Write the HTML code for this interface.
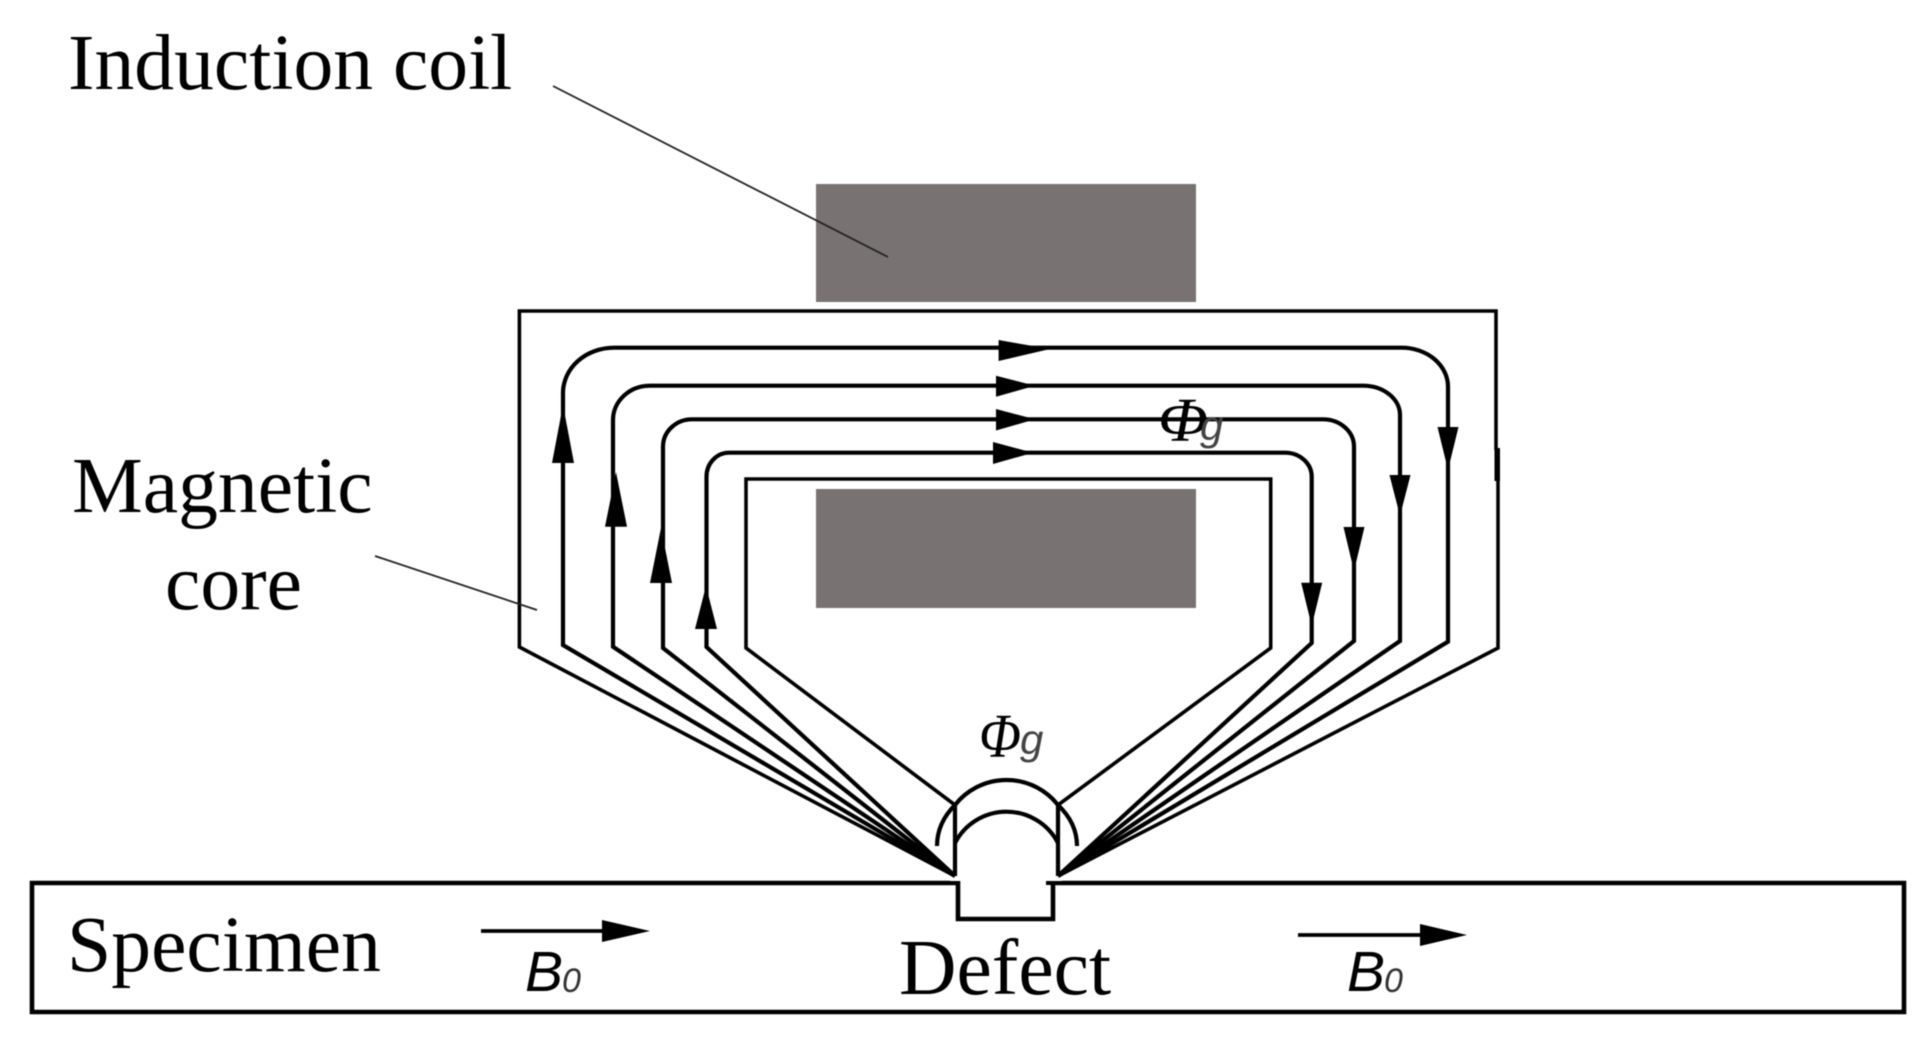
<!DOCTYPE html>
<html>
<head>
<meta charset="utf-8">
<style>
html,body{margin:0;padding:0;background:#fff;width:1920px;height:1063px;overflow:hidden}
svg{display:block;filter:blur(.6px)}
text{fill:#000}
.s{font-family:"Liberation Serif",serif;font-size:79.6px}
.p{font-family:"Liberation Serif",serif;font-style:italic;font-size:62px}
.g{font-family:"Liberation Sans",sans-serif;font-style:italic;font-size:42px;fill:#444}
.b{font-family:"Liberation Sans",sans-serif;font-style:italic;font-size:57px}
.z{font-family:"Liberation Sans",sans-serif;font-style:italic;font-size:34px;fill:#333}
</style>
</head>
<body>
<svg width="1920" height="1063" viewBox="0 0 1920 1063" xmlns="http://www.w3.org/2000/svg">
<rect x="816" y="184" width="380" height="118" fill="#787372"/>
<rect x="816" y="489" width="380" height="119" fill="#787372"/>

<g fill="none" stroke="#000" stroke-width="3.6" stroke-linejoin="miter">
<path d="M955 876L519.4 647V311H1496V450M1498 450V648L1058 876"/>
<path d="M955 805L746 648V479H1270.7V648L1058 805"/>
<path d="M32 883H958V919H1053V883H1904V1012H32Z" stroke-width="4.6"/>
</g>
<rect x="950" y="878" width="112" height="3" fill="#fff"/>
<rect x="1046" y="881" width="5" height="4" fill="#000"/>
<rect x="1494.5" y="448" width="5.5" height="33" fill="#000"/>

<g fill="none" stroke="#000" stroke-width="4.2">
<path d="M955 876L563 645V393A51 45.3 0 0 1 614 347.7H1401.7A46.3 39 0 0 1 1448 386.7V641.7L1058 876"/>
<path d="M955 876L613 646.7V420A37 34.3 0 0 1 650 385.7H1363A37 29.3 0 0 1 1400 415V641L1058 876"/>
<path d="M955 876L663 648V446.7A29 27.4 0 0 1 692 419.3H1323A31 27.4 0 0 1 1354 446.7V641L1058 876"/>
<path d="M955 876L706.5 647V476.7A22.5 24 0 0 1 729 452.7H1285A26.7 24 0 0 1 1311.7 476.7V643L1058 876"/>
<path d="M955 805V876M1058 805V876"/>
<path d="M955 805A65.5 65.5 0 0 1 1058 805"/>
<path d="M955 843A58 58 0 0 1 1058 843"/>
<path d="M955 805Q937 823 937 846M1058 805Q1077 823 1077 846"/>
</g>

<g fill="#000">
<path d="M998.6 340L1050 349L998.6 361Z"/>
<path d="M996 375.7L1035 385.7L996 396.7Z"/>
<path d="M996 409L1035 419.3L996 430.5Z"/>
<path d="M993 442L1033 452.7L993 464Z"/>
<path d="M552 463H574L563 405Z"/>
<path d="M605 526.7H627L616 472Z"/>
<path d="M650 583H672L661 528Z"/>
<path d="M695 629H717L706 586Z"/>
<path d="M1437.5 427H1458.5L1448 470Z"/>
<path d="M1389.5 475H1410.5L1400 516Z"/>
<path d="M1343.5 527H1364.5L1354 571Z"/>
<path d="M1301.2 582.7H1322.2L1311.7 626Z"/>
<path d="M602 920L650 931L602 942Z"/>
<path d="M1420 924L1467 935L1420 946Z"/>
</g>
<g stroke="#000" stroke-width="3.8" fill="none">
<path d="M481 931H605M1298 935H1423"/>
</g>
<g stroke="#222" stroke-width="1.8" fill="none">
<path d="M553 86L888 257"/>
<path d="M375 556L537 610"/>
</g>

<text class="s" x="68" y="89">Induction coil</text>
<text class="s" x="72" y="512">Magnetic</text>
<text class="s" x="165" y="609">core</text>
<text class="s" x="67" y="971">Specimen</text>
<text class="s" x="899" y="994">Defect</text>

<text class="p" x="979" y="757" textLength="42" lengthAdjust="spacingAndGlyphs">Φ</text>
<text class="g" x="1020" y="754">g</text>
<text class="p" x="1158" y="441" textLength="50" lengthAdjust="spacingAndGlyphs">Φ</text>
<text class="g" x="1200" y="440">g</text>

<text class="b" x="525" y="991">B</text>
<text class="z" x="562" y="992">0</text>
<text class="b" x="1347" y="991">B</text>
<text class="z" x="1384" y="992">0</text>
</svg>
</body>
</html>
